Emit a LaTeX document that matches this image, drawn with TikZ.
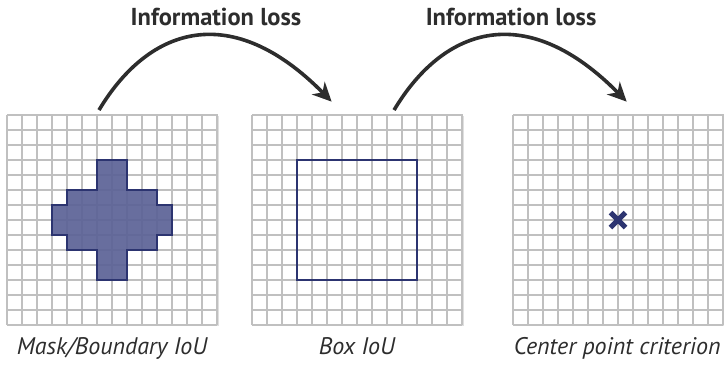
\documentclass[tikz,border=0pt]{standalone}
\usepackage{fontspec}
\setsansfont{PT Sans}
\usetikzlibrary{arrows.meta,shadows}
\definecolor{gridgray}{RGB}{192,192,192}
\definecolor{maskfill}{RGB}{92,98,150}
\definecolor{maskline}{RGB}{44,52,112}
\definecolor{inkgray}{RGB}{45,45,45}

\begin{document}
\begin{tikzpicture}[x=15pt,y=15pt,
    panel/.style={draw=gridgray, line width=1.1pt, fill=white, minimum size=210pt,
      inner sep=0pt, anchor=south west,
      drop shadow={shadow xshift=1.5pt, shadow yshift=-2pt, opacity=0.25}},
    gridlines/.style={draw=gridgray, line width=1.1pt, step=15pt},
    losslabel/.style={font=\sffamily\bfseries\fontsize{24.5}{28}\selectfont, text=inkgray},
    panelcap/.style={font=\sffamily\itshape\fontsize{24}{28}\selectfont, text=inkgray, anchor=base},
    lossarrow/.style={draw=inkgray, line width=3.6pt,
      -{Stealth[length=19pt, width=18pt, inset=6pt]}}]
  \useasboundingbox (0,0) rectangle (48.267,24.267);

  % Panels
  \node[panel] (mask) at (0.467,2.6) {};
  \node[panel] (box) at (16.8,2.6) {};
  \node[panel] (center) at (34.2,2.6) {};

  % Mask / boundary
  \begin{scope}[shift={(mask.south west)}]
    \draw[gridlines] (0,0) grid (14,14);
    \draw[maskline, fill=maskfill, fill opacity=0.92, line width=2.6pt]
      (6,11) -- (8,11) -- (8,9) -- (10,9) -- (10,8) -- (11,8) -- (11,6) --
      (10,6) -- (10,5) -- (8,5) -- (8,3) -- (6,3) -- (6,5) -- (4,5) --
      (4,6) -- (3,6) -- (3,8) -- (4,8) -- (4,9) -- (6,9) -- cycle;
  \end{scope}

  % Box
  \begin{scope}[shift={(box.south west)}]
    \draw[gridlines] (0,0) grid (14,14);
    \draw[maskline, line width=2.8pt] (3,3) rectangle (11,11);
  \end{scope}

  % Center point
  \begin{scope}[shift={(center.south west)}]
    \draw[gridlines] (0,0) grid (14,14);
    \draw[maskline, line width=5pt] (6.5,6.5) -- (7.5,7.5);
    \draw[maskline, line width=5pt] (6.5,7.5) -- (7.5,6.5);
  \end{scope}

  % Captions
  \node[panelcap] (maskcap) at (7.467,0.667) {Mask/Boundary IoU};
  \node[panelcap] (boxcap) at (23.8,0.667) {Box IoU};
  \node[panelcap] (centercap) at (41.15,0.667) {Center point criterion};

  % Arrows
  \coordinate (from1) at (6.6,16.93);
  \coordinate (to1) at (22.11,17.49);
  \coordinate (from2) at (26.27,16.93);
  \coordinate (to2) at (41.78,17.49);
  \draw[lossarrow] (from1) .. controls +(3.4,5.67) and +(-6.6,6.7) .. (to1);
  \draw[lossarrow] (from2) .. controls +(3.4,5.67) and +(-6.6,6.7) .. (to2);
  \node[losslabel] (loss1) at (14.4,23.13) {Information loss};
  \node[losslabel] (loss2) at (34.07,23.13) {Information loss};
\end{tikzpicture}
\end{document}
